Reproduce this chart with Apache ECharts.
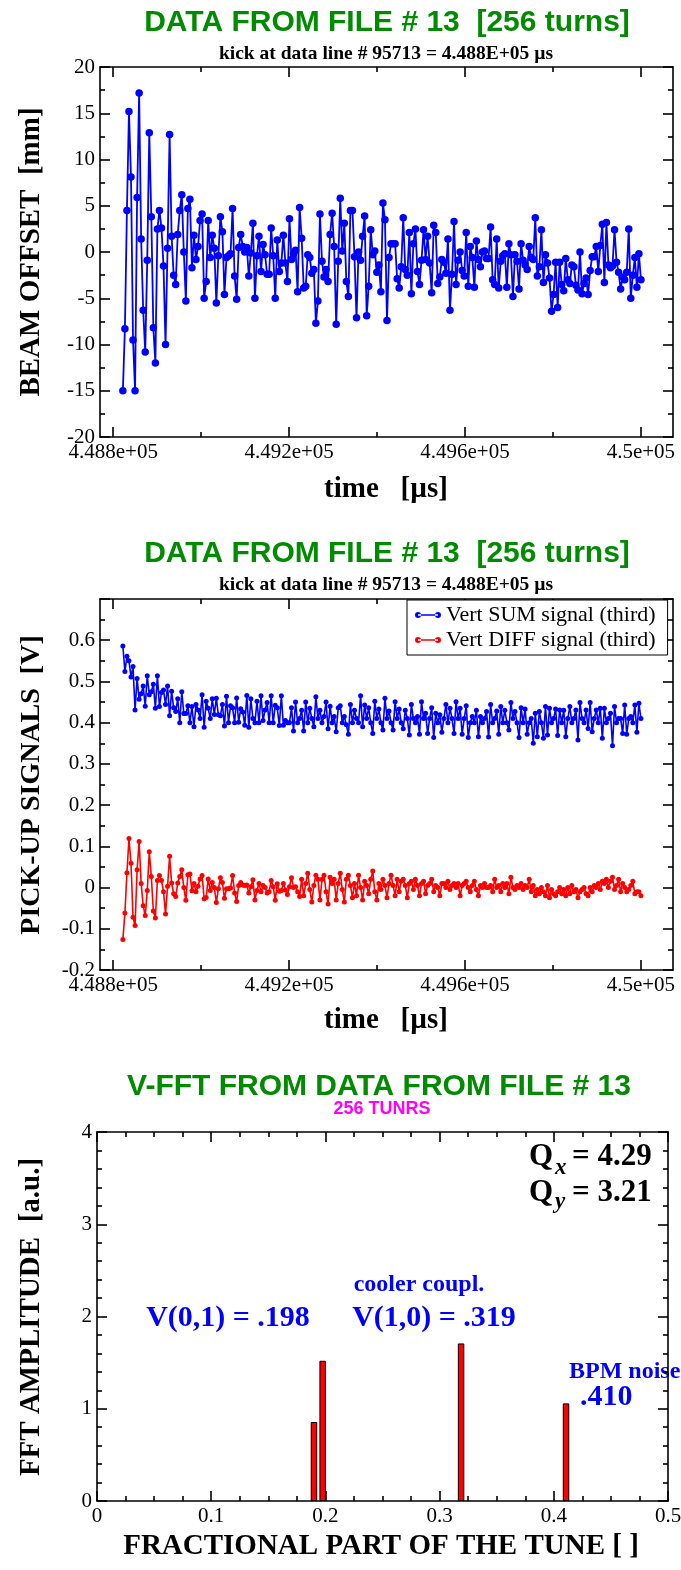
<!DOCTYPE html>
<html>
<head>
<meta charset="utf-8">
<script src="https://cdn.jsdelivr.net/npm/echarts@6/dist/echarts.min.js"></script>
<style>
  html, body { margin: 0; padding: 0; background: #fff; }
  #main { width: 681px; height: 1570px; }
</style>
</head>
<body>
<div id="main"></div>
<script>
// sampling of the turn-by-turn data (time of first sample, step in µs)
var T0 = 448822;
var DT = 4.62;

var TIME_TICKS = [448800, 449200, 449600, 450000];
var TIME_TICK_LABELS = ['4.488e+05', '4.492e+05', '4.496e+05', '4.5e+05'];
var TIME_MINOR_TICKS = [449000, 449400, 449800];

// beam offset [mm], 256 turns
var BEAM_OFFSET = [
  -15.0, -8.3, 4.5, 15.2, 8.1, -9.5, -15.0, 5.9, 17.2, 1.4,
  -6.3, -10.8, -0.9, 12.9, 3.8, -8.2, -12.0, 2.5, 4.5, 2.6,
  -1.5, -10.0, 0.4, 12.7, 1.7, -2.5, -3.5, 1.9, 4.5, 6.2,
  0.0, -5.3, 4.7, 5.7, -1.7, 1.8, -0.8, 0.6, 3.4, 4.1,
  -5.0, -3.2, 3.4, -0.6, 1.8, 0.4, -5.5, -0.4, 3.8, 2.2,
  -4.6, -0.6, -0.4, -0.2, 4.7, -2.6, -5.1, 0.5, 1.9, 0.6,
  0.0, 0.5, -2.6, -0.1, 3.1, -5.0, -0.4, 1.7, -2.1, 0.8,
  -0.3, -2.4, -2.4, 2.6, -0.4, -5.0, 1.3, -2.1, -1.2, 1.8,
  -1.2, -3.2, 3.6,
  -0.8, -0.2, 0.2, -4.3, 4.8, 1.5, -3.9, -3.7, -0.3, -0.6,
  -2.3, -1.9, -7.7, -5.3, 4.1, -1.0, -2.7, -1.9, -3.2, 1.9,
  4.2, 0.6, -7.8, -1.0, 5.8, 0.1, 3.1, -3.2, -4.8, 4.5,
  4.5, -0.5, -7.1, 0.0, -0.9, 1.7, 3.9, -6.9, -3.7, 2.4,
  -0.3, 0.1, -2.2, -1.4, -4.3, 5.3, 3.5, -7.4, -0.6, 0.9,
  0.9, 0.9, -2.9, -3.9, -1.6, 3.7, -1.9, -2.5, 2.1, -4.5,
  0.9, 2.5, -2.1, -3.5, -0.9, 2.4, -0.8, 1.7, -1.2, -4.4,
  2.9, 2.1, -3.4, -2.7, -0.8, -1.1, -2.3, 1.4, -6.3, -2.4,
  3.3, -3.5, -0.9, 0.0, -2.0, -2.6, 2.1,
  -3.7, 0.6, -0.6, -3.8, 1.2, -0.8, -1.6, 0.0, 0.1, -0.7,
  -0.7, 2.7, -3.0, -3.5, 1.4, -3.9, -1.0, -0.4, -0.2, -3.8,
  0.9, -0.3, -4.8, -0.3, -1.0, -4.0, 0.9, -0.9, -1.4, -1.9,
  0.6, -0.6, -0.8, 3.7, -2.6, -1.6, 2.4, -3.3, -0.3, -1.2,
  -2.8, -6.4, -4.6, -1.1, -6.0, -1.1, -3.5, -4.2, -0.7, -3.0,
  -3.4, -1.4, -1.6, -3.6, -4.1, 0.0, -4.5, -3.4, -2.8, -4.6, -2.0,
  -0.5, -0.5, 0.6, -2.1, 0.7, 3.0, -3.3, 3.2, -1.4, -1.7, -1.5,
  2.4, -1.1, -2.2, -4.0, -2.7, -3.0, -2.2, 2.5, -5.0, -2.5,
  -0.6, -3.8, -0.2, -3.0
];

// vertical SUM signal [V]
var SUM_SIGNAL = [
  0.586, 0.524, 0.561, 0.55, 0.511, 0.536, 0.431, 0.507, 0.457, 0.47,
  0.489, 0.44, 0.514, 0.468, 0.475, 0.493, 0.435, 0.514, 0.439, 0.473,
  0.479, 0.444, 0.489, 0.417, 0.476, 0.436, 0.427, 0.458, 0.40, 0.475,
  0.422, 0.422, 0.441, 0.40, 0.439, 0.39, 0.444, 0.431, 0.41, 0.468,
  0.389, 0.452, 0.435, 0.41, 0.458, 0.42, 0.459, 0.419, 0.417, 0.444,
  0.392, 0.464, 0.40, 0.441, 0.436, 0.40, 0.46, 0.401, 0.434, 0.426,
  0.394, 0.466, 0.389, 0.458, 0.41, 0.40, 0.452, 0.40, 0.465, 0.405,
  0.431, 0.449, 0.40, 0.465, 0.40, 0.442, 0.436, 0.393, 0.465, 0.394,
  0.405, 0.40, 0.40, 0.436, 0.38, 0.45, 0.40,
  0.41, 0.43, 0.38, 0.45, 0.40, 0.435, 0.41, 0.39, 0.463, 0.41,
  0.43, 0.40, 0.415, 0.45, 0.385, 0.44, 0.40, 0.415, 0.378, 0.436,
  0.441, 0.40, 0.415, 0.395, 0.372, 0.444, 0.40, 0.43, 0.41, 0.40,
  0.465, 0.39, 0.443, 0.41, 0.436, 0.40, 0.374, 0.452, 0.41, 0.433,
  0.40, 0.382, 0.459, 0.41, 0.428, 0.40, 0.382, 0.451, 0.41, 0.433,
  0.40, 0.385, 0.43, 0.41, 0.37, 0.444, 0.41, 0.40, 0.415, 0.372,
  0.451, 0.41, 0.423, 0.374, 0.41, 0.436, 0.364, 0.423, 0.40, 0.419,
  0.377, 0.41, 0.444, 0.40, 0.435, 0.41, 0.374, 0.451, 0.41, 0.435,
  0.372, 0.41, 0.441, 0.364, 0.40, 0.415, 0.40, 0.43, 0.366, 0.415,
  0.40, 0.41, 0.427, 0.365, 0.444, 0.40, 0.41, 0.428, 0.372, 0.439,
  0.40, 0.43, 0.40, 0.382, 0.449, 0.41, 0.427, 0.40, 0.364, 0.436,
  0.40, 0.433, 0.372, 0.40, 0.41, 0.35, 0.423, 0.366, 0.427, 0.40,
  0.362, 0.439, 0.37, 0.435, 0.40, 0.41, 0.433, 0.369, 0.431, 0.40,
  0.43, 0.366, 0.41, 0.439, 0.40, 0.41, 0.431, 0.358, 0.449, 0.41,
  0.40, 0.431, 0.386, 0.449, 0.378, 0.41, 0.431, 0.40, 0.435, 0.362,
  0.435, 0.40, 0.41, 0.423, 0.344, 0.439, 0.40, 0.41, 0.41, 0.374,
  0.443, 0.372, 0.41, 0.415, 0.40, 0.443, 0.377, 0.447, 0.41
];

// vertical DIFF signal [V]
var DIFF_SIGNAL = [
  -0.126, -0.062, 0.036, 0.119, 0.059, -0.072, -0.092, 0.043, 0.112, 0.01,
  -0.044, -0.068, -0.007, 0.087, 0.027, -0.057, -0.074, 0.017, 0.029, 0.017,
  -0.01, -0.064, 0.003, 0.076, 0.011, -0.015, -0.022, 0.011, 0.027, 0.043,
  0.0, -0.031, 0.031, 0.033, -0.008, 0.01, -0.01, 0.003, 0.021, 0.029,
  -0.027, -0.024, 0.021, -0.007, 0.012, 0.0, -0.036, -0.003, 0.024, 0.012,
  -0.026, -0.003, -0.003, -0.001, 0.029, -0.013, -0.034, 0.005, 0.012, 0.006,
  0.005, 0.006, -0.013, 0.002, 0.019, -0.03, -0.007, 0.01, -0.01, 0.005,
  0.0, -0.013, -0.01, 0.017, 0.002, -0.031, 0.009, -0.009, -0.007, 0.01,
  -0.006, -0.017, 0.002, 0.024, 0.0, 0.002, -0.01, -0.022,
  0.02, -0.02, 0.01, 0.035, -0.005, -0.035, 0.005, 0.03, 0.02, -0.03,
  0.02, 0.03, -0.01, -0.04, 0.025, 0.01, 0.02, -0.03, 0.01, 0.035,
  -0.005, -0.035, 0.02, 0.03, 0.005, -0.025, 0.01, -0.02, 0.03, 0.0,
  -0.03, 0.015, 0.005, -0.015, 0.02, 0.04, -0.01, -0.03, 0.01, -0.005,
  0.02, 0.005, -0.025, 0.01, 0.03, 0.005, -0.02, 0.02, -0.01, 0.015,
  0.02, 0.005, -0.025, 0.01, 0.015, -0.005, 0.02, 0.005, -0.02, 0.01,
  0.015, -0.015, 0.005, 0.01, 0.02, -0.01, 0.005, 0.0, -0.02, 0.01,
  0.01, 0.0, 0.015, -0.005, 0.005, 0.01, 0.0, 0.01, -0.02, 0.005,
  0.01, 0.015, 0.0, -0.01, 0.005, 0.015, -0.005, -0.02, 0.005, 0.0,
  0.01, 0.0, 0.0, 0.005, -0.01, 0.02, 0.0, 0.005, -0.01, 0.01,
  0.0, 0.01, -0.015, 0.025, 0.0, -0.005, 0.005, 0.0, 0.01, -0.005,
  0.005, 0.0, 0.02, -0.01, 0.005, -0.02, -0.005, -0.015, 0.0, -0.01,
  -0.02, 0.005, -0.025, -0.005, -0.015, -0.02, -0.01, 0.0, -0.015, -0.005,
  -0.02, 0.0, -0.015, 0.005, -0.01, -0.005, -0.025, -0.01, -0.005, 0.0,
  -0.015, -0.02, 0.0, -0.01, 0.005, 0.0, 0.01, -0.005, 0.015, 0.01,
  0.02, 0.0, 0.015, 0.025, -0.005, 0.005, 0.02, -0.01, 0.01, 0.0,
  -0.01, -0.005, 0.005, 0.015, -0.015, -0.01, -0.01, -0.02
];

// vertical FFT peaks
var FFT_TUNE = [0.190, 0.1976, 0.3188, 0.4107];
var FFT_AMP = [0.856, 1.52, 1.708, 1.058];

var SERIF = '"Liberation Serif", "Times New Roman", serif';
var SANS = '"Liberation Sans", Arial, sans-serif';
var GREEN = '#008b00';

function timeData(values) {
  var out = [];
  for (var i = 0; i < values.length; i++) {
    out.push([T0 + i * DT, values[i]]);
  }
  return out;
}

function txt(x, y, text, size, opts) {
  opts = opts || {};
  var align = opts.align || 'center';
  return {
    type: 'text',
    x: x,
    y: y,
    rotation: opts.rotation || 0,
    silent: true,
    style: {
      text: text,
      fontSize: size,
      fontWeight: opts.weight || 'bold',
      fontStyle: opts.style || 'normal',
      fontFamily: opts.family || SERIF,
      fill: opts.color || '#000',
      align: align,
      textAlign: align,
      verticalAlign: 'middle',
      textVerticalAlign: 'middle'
    }
  };
}

var labelStyle = { color: '#000', fontFamily: SERIF, fontSize: 21 };
var lineBlack = { color: '#000', width: 1.6 };

// time axes: main one with labels, plus minor / mirrored ones
function timeAxes(gridIndex) {
  var base = { type: 'value', gridIndex: gridIndex, min: 448770, max: 450073, splitLine: { show: false } };
  return [
    Object.assign({}, base, {
      position: 'bottom',
      axisLine: { show: true, onZero: false, lineStyle: lineBlack },
      axisTick: { show: true, inside: true, length: 10, customValues: TIME_TICKS, lineStyle: lineBlack },
      axisLabel: {
        show: true, margin: 5, hideOverlap: false, customValues: TIME_TICKS,
        formatter: function (v) {
          var i = TIME_TICKS.indexOf(v);
          return i >= 0 ? TIME_TICK_LABELS[i] : '';
        },
        color: labelStyle.color, fontFamily: labelStyle.fontFamily, fontSize: labelStyle.fontSize
      }
    }),
    Object.assign({}, base, {
      position: 'bottom',
      axisLine: { show: false, onZero: false },
      axisTick: { show: true, inside: true, length: 5, customValues: TIME_MINOR_TICKS, lineStyle: lineBlack },
      axisLabel: { show: false }
    }),
    Object.assign({}, base, {
      position: 'top',
      axisLine: { show: true, onZero: false, lineStyle: lineBlack },
      axisTick: { show: true, inside: true, length: 10, customValues: TIME_TICKS, lineStyle: lineBlack },
      axisLabel: { show: false }
    }),
    Object.assign({}, base, {
      position: 'top',
      axisLine: { show: false, onZero: false },
      axisTick: { show: true, inside: true, length: 5, customValues: TIME_MINOR_TICKS, lineStyle: lineBlack },
      axisLabel: { show: false }
    })
  ];
}

function valueAxis(gridIndex, position, min, max, interval, minorSplit, withLabels, formatter) {
  return {
    type: 'value',
    gridIndex: gridIndex,
    position: position,
    min: min,
    max: max,
    interval: interval,
    splitLine: { show: false },
    axisLine: { show: true, onZero: false, lineStyle: lineBlack },
    axisTick: { show: true, inside: true, length: 10, lineStyle: lineBlack },
    minorTick: { show: true, splitNumber: minorSplit, length: 5, lineStyle: lineBlack },
    axisLabel: {
      show: withLabels, margin: 5, hideOverlap: false,
      showMinLabel: true, showMaxLabel: true,
      formatter: formatter,
      color: labelStyle.color, fontFamily: labelStyle.fontFamily, fontSize: labelStyle.fontSize
    }
  };
}

function tenths(v) {
  var r = Math.round(v * 10) / 10;
  return String(r);
}

var chart = echarts.init(document.getElementById('main'));

var xAxes = [].concat(
  timeAxes(0),
  timeAxes(1),
  [
    valueAxis(2, 'bottom', 0, 0.5, 0.1, 4, true, tenths),
    valueAxis(2, 'top', 0, 0.5, 0.1, 4, false)
  ]
);

var yAxes = [
  valueAxis(0, 'left', -20, 20, 5, 2, true),
  valueAxis(0, 'right', -20, 20, 5, 2, false),
  valueAxis(1, 'left', -0.2, 0.7, 0.1, 2, true, function (v) {
    var r = Math.round(v * 10) / 10;
    return r > 0.65 ? '' : String(r);
  }),
  valueAxis(1, 'right', -0.2, 0.7, 0.1, 2, false),
  valueAxis(2, 'left', 0, 4, 1, 5, true),
  valueAxis(2, 'right', 0, 4, 1, 5, false)
];

var fftData = [];
for (var k = 0; k < FFT_TUNE.length; k++) {
  fftData.push([FFT_TUNE[k], FFT_AMP[k]]);
}

var legendIcon = 'path://M3,2.3 L23,2.3 L23,3.7 L3,3.7 Z M0,3 A3,3 0 1,0 6,3 A3,3 0 1,0 0,3 Z M20,3 A3,3 0 1,0 26,3 A3,3 0 1,0 20,3 Z';

var option = {
  animation: false,
  backgroundColor: '#fff',
  grid: [
    { left: 100, top: 67, width: 573, height: 370, outerBoundsMode: 'none' },
    { left: 100, top: 599, width: 573, height: 371, outerBoundsMode: 'none' },
    { left: 97, top: 1132, width: 571, height: 369, outerBoundsMode: 'none' }
  ],
  xAxis: xAxes,
  yAxis: yAxes,
  legend: {
    show: true,
    data: ['Vert SUM signal (third)', 'Vert DIFF signal (third)'],
    orient: 'vertical',
    left: 407,
    top: 600,
    icon: legendIcon,
    itemWidth: 26,
    itemHeight: 6,
    itemGap: 1,
    padding: [3, 12, 3, 8],
    backgroundColor: '#fff',
    borderColor: '#000',
    borderWidth: 1,
    borderRadius: 0,
    selectedMode: false,
    textStyle: { color: '#000', fontFamily: SERIF, fontSize: 22, lineHeight: 24 }
  },
  series: [
    {
      name: 'BEAM OFFSET',
      type: 'line',
      xAxisIndex: 0,
      yAxisIndex: 0,
      data: timeData(BEAM_OFFSET),
      symbol: 'circle',
      symbolSize: 7.5,
      showAllSymbol: true,
      lineStyle: { color: '#0000ff', width: 1.8 },
      itemStyle: { color: '#0000ff' }
    },
    {
      name: 'Vert SUM signal (third)',
      type: 'line',
      xAxisIndex: 4,
      yAxisIndex: 2,
      data: timeData(SUM_SIGNAL),
      symbol: 'circle',
      symbolSize: 5,
      showAllSymbol: true,
      lineStyle: { color: '#0000ff', width: 1.6 },
      itemStyle: { color: '#0000ff' }
    },
    {
      name: 'Vert DIFF signal (third)',
      type: 'line',
      xAxisIndex: 4,
      yAxisIndex: 2,
      data: timeData(DIFF_SIGNAL),
      symbol: 'circle',
      symbolSize: 5,
      showAllSymbol: true,
      lineStyle: { color: '#ff0000', width: 1.6 },
      itemStyle: { color: '#ff0000' }
    },
    {
      name: 'FFT',
      type: 'bar',
      xAxisIndex: 8,
      yAxisIndex: 4,
      data: fftData,
      barWidth: 6.5,
      itemStyle: { color: '#ff0000', borderColor: '#000', borderWidth: 1 }
    }
  ],
  graphic: [
    // panel 1
    txt(387, 23, 'DATA FROM FILE # 13  [256 turns]', 30, { family: SANS, color: GREEN }),
    txt(386, 54, 'kick at data line # 95713 = 4.488E+05 \u00b5s', 19.5),
    txt(386, 490, 'time   [\u00b5s]', 29),
    txt(32, 252, 'BEAM OFFSET  [mm]', 29, { rotation: Math.PI / 2 }),
    // panel 2
    txt(387, 554, 'DATA FROM FILE # 13  [256 turns]', 30, { family: SANS, color: GREEN }),
    txt(386, 585, 'kick at data line # 95713 = 4.488E+05 \u00b5s', 19.5),
    txt(386, 1021, 'time   [\u00b5s]', 29),
    txt(32, 785, 'PICK-UP SIGNALS  [V]', 28, { rotation: Math.PI / 2 }),
    // panel 3
    txt(379, 1087, 'V-FFT FROM DATA FROM FILE # 13', 30, { family: SANS, color: GREEN }),
    txt(382, 1109, '256 TUNRS', 18, { family: SANS, color: '#ff00ff' }),
    txt(381, 1547, 'FRACTIONAL PART OF THE TUNE [ ]', 29),
    txt(32, 1317, 'FFT AMPLITUDE  [a.u.]', 29, { rotation: Math.PI / 2 }),
    txt(529, 1157, 'Q', 31, { align: 'left' }),
    txt(555, 1168, 'x', 23, { align: 'left', style: 'italic' }),
    txt(572, 1157, '= 4.29', 31, { align: 'left' }),
    txt(529, 1193, 'Q', 31, { align: 'left' }),
    txt(555, 1202, 'y', 23, { align: 'left', style: 'italic' }),
    txt(572, 1193, '= 3.21', 31, { align: 'left' }),
    txt(228, 1318, 'V(0,1) = .198', 30, { color: '#0000ff' }),
    txt(419, 1285, 'cooler coupl.', 24, { color: '#0000ff' }),
    txt(434, 1318, 'V(1,0) = .319', 30, { color: '#0000ff' }),
    txt(569, 1372, 'BPM noise', 24, { align: 'left', color: '#0000ff' }),
    txt(580, 1397, '.410', 30, { align: 'left', color: '#0000ff' })
  ]
};

chart.setOption(option);
</script>
</body>
</html>
